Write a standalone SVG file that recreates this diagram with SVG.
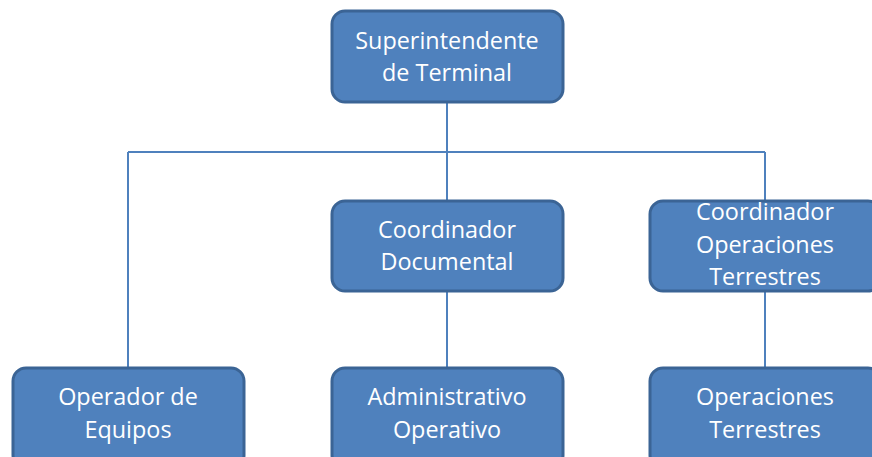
<svg xmlns="http://www.w3.org/2000/svg" width="872" height="457" viewBox="0 0 872 457">
<style>
.box{fill:#4f81bd;stroke:#3b6495;stroke-width:3}
.t{font-family:"Open Sans","Liberation Sans",Arial,sans-serif;font-size:23.4px;fill:#ffffff;text-anchor:middle}
.c{stroke:#4f81bd;stroke-width:2;fill:none}
</style>
<rect width="872" height="457" fill="#ffffff"/>
<g id="connectors">
<path class="c" d="M447 102V152M128 152H765M128 152V367M447 152V200M765 152V200M447 291V367M765 291V367"/>
</g>
<g id="n-superintendente">
<rect class="box" x="332" y="11" width="231" height="91" rx="13"/>
<text class="t" x="447" y="49">Superintendente</text>
<text class="t" x="447" y="81">de Terminal</text>
</g>
<g id="n-coord-doc">
<rect class="box" x="332" y="201" width="231" height="90" rx="13"/>
<text class="t" x="447" y="238">Coordinador</text>
<text class="t" x="447" y="270">Documental</text>
</g>
<g id="n-coord-op">
<rect class="box" x="650" y="201" width="231" height="90" rx="13"/>
<text class="t" x="765" y="220">Coordinador</text>
<text class="t" x="765" y="253">Operaciones</text>
<text class="t" x="765" y="285">Terrestres</text>
</g>
<g id="n-operador">
<rect class="box" x="13" y="368" width="231" height="100" rx="13"/>
<text class="t" x="128" y="405">Operador de</text>
<text class="t" x="128" y="438">Equipos</text>
</g>
<g id="n-administrativo">
<rect class="box" x="332" y="368" width="231" height="100" rx="13"/>
<text class="t" x="447" y="405">Administrativo</text>
<text class="t" x="447" y="438">Operativo</text>
</g>
<g id="n-operaciones">
<rect class="box" x="650" y="368" width="231" height="100" rx="13"/>
<text class="t" x="765" y="405">Operaciones</text>
<text class="t" x="765" y="438">Terrestres</text>
</g>
</svg>
